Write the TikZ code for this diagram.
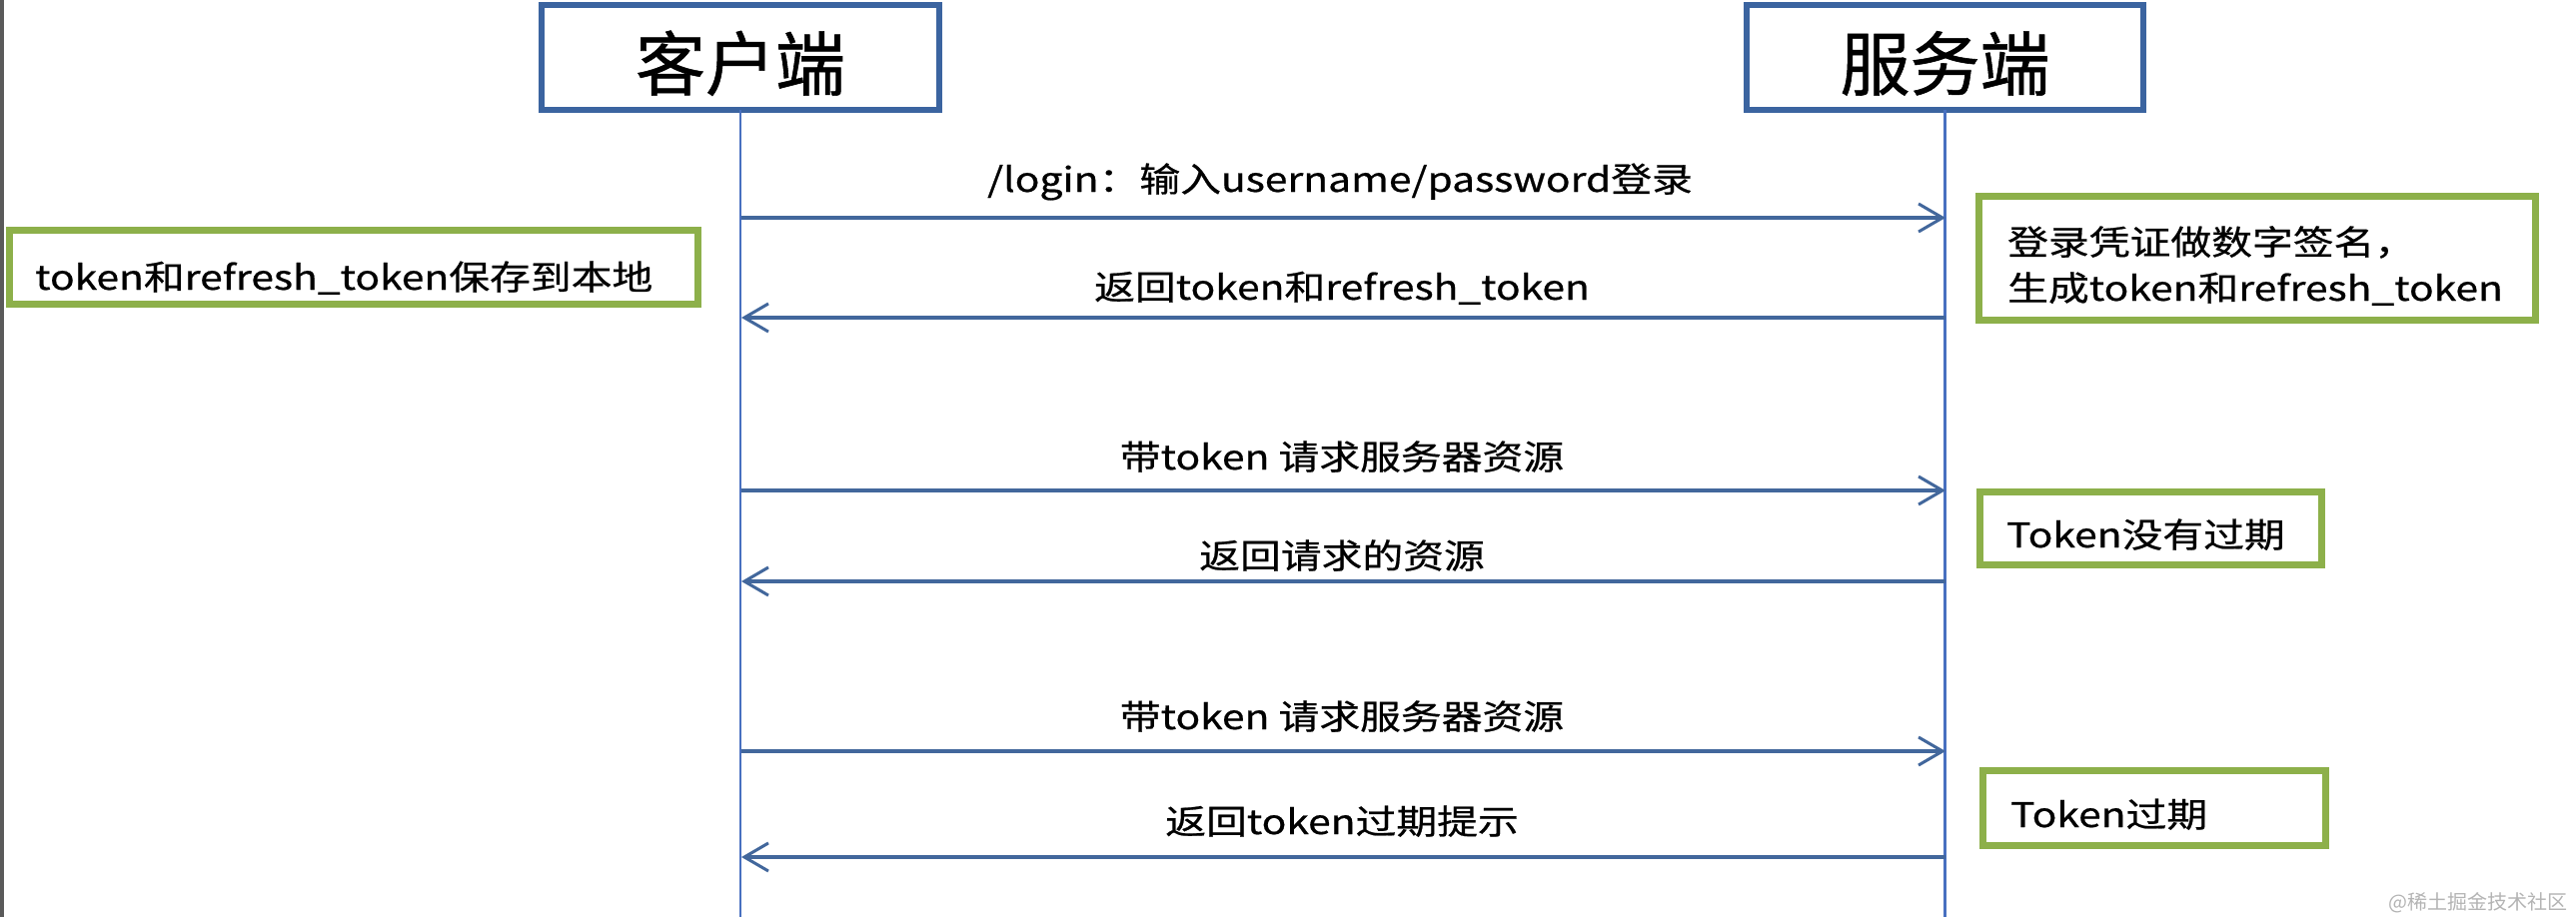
\documentclass[tikz,border=0pt]{standalone}
\usepackage{fontspec}
\usetikzlibrary{arrows.meta}
\newfontfamily\cjk[FakeBold=0.8]{Noto Sans CJK SC}
\newfontfamily\cjkwm{Noto Sans CJK SC}
\newfontfamily\cjkw[FakeStretch=1.2,FakeBold=0.6]{Noto Sans CJK SC}
\definecolor{boxblue}{HTML}{3B64A0}
\definecolor{lineblue}{HTML}{4870C0}
\definecolor{arrowblue}{HTML}{42679C}
\definecolor{boxgreen}{HTML}{8DB04A}
\definecolor{wmgray}{HTML}{B4B4B4}
\definecolor{edgegray}{HTML}{5A5A5A}
\begin{document}
\begin{tikzpicture}[x=1pt,y=-1pt,
 actor/.style={draw=boxblue, line width=6pt, fill=white, outer sep=0pt, inner sep=0pt,
   minimum width=398pt, minimum height=105pt, text height=70pt, text depth=5pt,
   font=\cjk\fontsize{70}{80}\selectfont},
 lifeline/.style={draw=lineblue, line width=2.4pt},
 msg/.style={draw=arrowblue, line width=3.5pt, -{Straight Barb[length=24pt,width=28pt,line width=3pt]}},
 lbl/.style={anchor=base, inner sep=0pt, font=\cjkw\fontsize{34}{46}\selectfont},
 note/.style={draw=boxgreen, line width=7pt, fill=white, inner sep=0pt, outer sep=0pt, anchor=north west},
 notetxt/.style={anchor=base west, inner sep=0pt, font=\cjkw\fontsize{34}{46}\selectfont, align=left},
]
\fill[white] (0,0) rectangle (2578,918);
\useasboundingbox (0,0) rectangle (2578,918);
\fill[edgegray] (0,0) rectangle (4,918);

% lifeline ends
\coordinate (cend) at (741,918);
\coordinate (send) at (1946.5,918);

% actors
\node[actor] (client) at (741,57.5) {客户端};
\node[actor, minimum width=397pt] (server) at (1946.5,57.5) {服务端};
\draw[lifeline] (client.south) -- (cend);
\draw[lifeline] (server.south) -- (send);

% message end points
\coordinate (c1) at (742,218);  \coordinate (s1) at (1947,218);
\coordinate (c2) at (742,318);  \coordinate (s2) at (1947,318);
\coordinate (c3) at (742,491);  \coordinate (s3) at (1947,491);
\coordinate (c4) at (742,582);  \coordinate (s4) at (1947,582);
\coordinate (c5) at (742,752);  \coordinate (s5) at (1947,752);
\coordinate (c6) at (742,858);  \coordinate (s6) at (1947,858);

\draw[msg] (c1) -- (s1);
\draw[msg] (s2) -- (c2);
\draw[msg] (c3) -- (s3);
\draw[msg] (s4) -- (c4);
\draw[msg] (c5) -- (s5);
\draw[msg] (s6) -- (c6);

\node[lbl] (m1) at (1341,192) {/login：输入username/password登录};
\node[lbl] (m2) at (1343,300) {返回token和refresh\_token};
\node[lbl] (m3) at (1343,470) {带token 请求服务器资源};
\node[lbl] (m4) at (1343,569) {返回请求的资源};
\node[lbl] (m5) at (1343,730) {带token 请求服务器资源};
\node[lbl] (m6) at (1343,835) {返回token过期提示};

% notes
\node[note, minimum width=689pt, minimum height=74pt] (nl) at (9.5,230.5) {};
\node[notetxt] (nlt) at (35,290) {token和refresh\_token保存到本地};

\node[note, minimum width=557pt, minimum height=124pt] (nr1) at (1980.5,196.5) {};
\node[notetxt] (nr1t) at (2009,301) {登录凭证做数字签名，\\生成token和refresh\_token};

\node[note, minimum width=342pt, minimum height=73pt] (nr2) at (1981.5,492.5) {};
\node[notetxt] (nr2t) at (2008,548) {Token没有过期};

\node[note, minimum width=343pt, minimum height=75pt] (nr3) at (1984.5,771.5) {};
\node[notetxt] (nr3t) at (2012,828) {Token过期};

\node[anchor=base east, inner sep=0pt, text=wmgray, font=\cjkwm\fontsize{20}{24}\selectfont] (wm) at (2570,910) {@稀土掘金技术社区};
\end{tikzpicture}
\end{document}
